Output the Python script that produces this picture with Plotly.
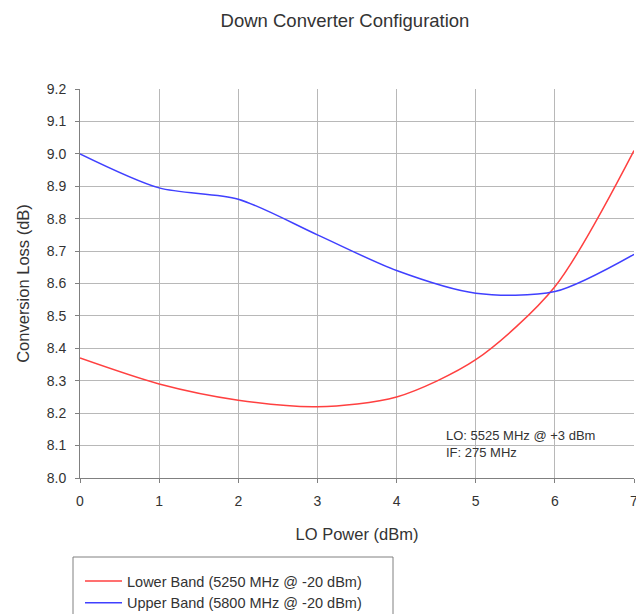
import plotly.graph_objects as go

lo_power = [0, 1, 2, 3, 4, 5, 6, 7]
lower_band = [8.37, 8.29, 8.24, 8.22, 8.25, 8.365, 8.59, 9.01]
upper_band = [9.00, 8.895, 8.86, 8.75, 8.64, 8.57, 8.575, 8.69]
y_ticks = [8.0, 8.1, 8.2, 8.3, 8.4, 8.5, 8.6, 8.7, 8.8, 8.9, 9.0, 9.1, 9.2]

W, H = 636, 614
ml, mr, mt, mb = 80, 2, 89, 136
pw = W - ml - mr
ph = H - mt - mb

def px_x(p):
    return (p - ml) / pw

def px_y(p):
    return (H - mb - p) / ph

font = "Liberation Sans, Arial, sans-serif"

fig = go.Figure()
fig.add_trace(go.Scatter(x=lo_power, y=lower_band, mode="lines",
                         line=dict(color="#ff4040", width=1.5, shape="spline", smoothing=0.8),
                         name="Lower Band (5250 MHz @ -20 dBm)"))
fig.add_trace(go.Scatter(x=lo_power, y=upper_band, mode="lines",
                         line=dict(color="#4040ff", width=1.5, shape="spline", smoothing=0.8),
                         name="Upper Band (5800 MHz @ -20 dBm)"))

fig.update_layout(
    width=W, height=H,
    margin=dict(l=ml, r=mr, t=mt, b=mb, autoexpand=False),
    paper_bgcolor="white", plot_bgcolor="white",
    font=dict(family=font, size=14, color="#333"),
    title=dict(text="Down Converter Configuration", x=345 / W,
               xanchor="center", y=1 - 21 / H, yanchor="middle",
               font=dict(size=18.5, color="#333")),
    xaxis=dict(range=[0, 7], tickvals=lo_power, showgrid=True, gridcolor="#b8b8b8",
               gridwidth=1, zeroline=False, showline=True, linecolor="#808080",
               ticks="outside", ticklen=4, tickcolor="#808080", ticklabelstandoff=6,
               automargin=False, ticklabeloverflow="allow",
               title=dict(text="LO Power (dBm)", font=dict(size=16.5), standoff=20),
               tickfont=dict(size=14)),
    yaxis=dict(range=[8.0, 9.2], tickvals=y_ticks, tickformat=".1f", showgrid=True,
               gridcolor="#b8b8b8", gridwidth=1, zeroline=False, showline=True,
               linecolor="#808080", ticks="outside", ticklen=4, tickcolor="#808080",
               ticklabelstandoff=6, automargin=False,
               title=dict(text="Conversion Loss (dB)", font=dict(size=16.5), standoff=12),
               tickfont=dict(size=14)),
    legend=dict(x=px_x(80), y=px_y(565), xanchor="left", yanchor="top",
                bgcolor="rgba(0,0,0,0)", borderwidth=0, font=dict(size=14.5),
                tracegroupgap=0, itemwidth=37),
    showlegend=True,
)

fig.add_shape(type="rect", xref="paper", yref="paper",
              x0=px_x(73), x1=px_x(393), y0=px_y(640), y1=px_y(557),
              line=dict(color="#808080", width=1), fillcolor="rgba(0,0,0,0)")

fig.add_annotation(x=px_x(444), y=px_y(444), xref="paper", yref="paper",
                   text="LO: 5525 MHz @ +3 dBm<br>IF: 275 MHz", showarrow=False,
                   xanchor="left", yanchor="middle", align="left",
                   font=dict(size=13, color="#333"))

fig.write_html("out.html")
